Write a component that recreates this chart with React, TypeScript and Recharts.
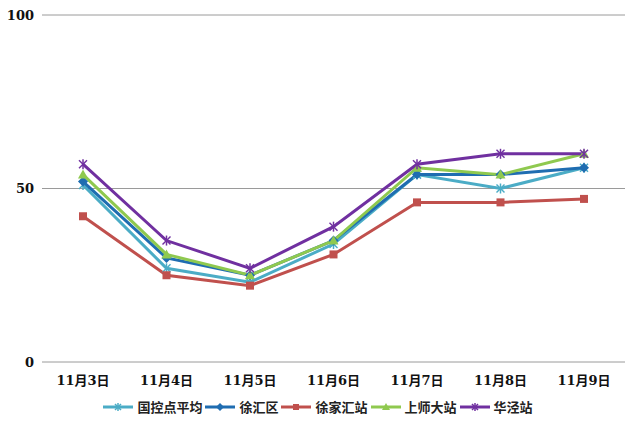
import { LineChart, Line, XAxis, YAxis, CartesianGrid, Legend } from 'recharts'

const days = ['11月3日', '11月4日', '11月5日', '11月6日', '11月7日', '11月8日', '11月9日']
const guokongAvg = [51, 27, 23, 34, 54, 50, 56]
const xuhuiDistrict = [52, 30, 25, 35, 54, 54, 56]
const xujiahuiStation = [42, 25, 22, 31, 46, 46, 47]
const shangshiStation = [54, 31, 25, 35, 56, 54, 60]
const huajingStation = [57, 35, 27, 39, 57, 60, 60]
const yTicks = [0, 50, 100]

const data = days.map((day, i) => ({
  day,
  guokong: guokongAvg[i],
  xuhui: xuhuiDistrict[i],
  xujiahui: xujiahuiStation[i],
  shangshi: shangshiStation[i],
  huajing: huajingStation[i],
}))

type Shape = 'star' | 'diamond' | 'square' | 'triangle' | 'cross'

const series: { key: string; name: string; color: string; shape: Shape }[] = [
  { key: 'guokong', name: '国控点平均', color: '#4BACC6', shape: 'star' },
  { key: 'xuhui', name: '徐汇区', color: '#1F6DB1', shape: 'diamond' },
  { key: 'xujiahui', name: '徐家汇站', color: '#C0504D', shape: 'square' },
  { key: 'shangshi', name: '上师大站', color: '#8FC94F', shape: 'triangle' },
  { key: 'huajing', name: '华泾站', color: '#7030A0', shape: 'cross' },
]

function Marker({ cx, cy, color, shape, r = 4 }: { cx: number; cy: number; color: string; shape: Shape; r?: number }) {
  if (shape === 'diamond') {
    return <path d={`M${cx},${cy - r - 1}L${cx + r + 1},${cy}L${cx},${cy + r + 1}L${cx - r - 1},${cy}Z`} fill={color} />
  }
  if (shape === 'square') {
    return <rect x={cx - r} y={cy - r} width={r * 2} height={r * 2} fill={color} />
  }
  if (shape === 'triangle') {
    return <path d={`M${cx},${cy - r - 1}L${cx + r + 1},${cy + r}L${cx - r - 1},${cy + r}Z`} fill={color} />
  }
  const lines = [
    [cx - r, cy - r, cx + r, cy + r],
    [cx - r, cy + r, cx + r, cy - r],
    [cx, cy - r - 1, cx, cy + r + 1],
  ]
  return (
    <g stroke={color} strokeWidth={1.5}>
      {lines.map((l, i) => (
        <line key={i} x1={l[0]} y1={l[1]} x2={l[2]} y2={l[3]} />
      ))}
    </g>
  )
}

const tickFont = "'DejaVu Serif', 'Liberation Serif', 'Noto Sans CJK SC', serif"

function renderLegend() {
  return (
    <div style={{ display: 'flex', justifyContent: 'center', alignItems: 'center', gap: 2, paddingLeft: 10 }}>
      {series.map((s) => (
        <div key={s.key} style={{ display: 'flex', alignItems: 'center' }}>
          <svg width={32} height={14}>
            <line x1={1} y1={7} x2={31} y2={7} stroke={s.color} strokeWidth={3} />
            <Marker cx={16} cy={7} color={s.color} shape={s.shape} r={3} />
          </svg>
          <span style={{ fontFamily: "'Noto Sans CJK SC', sans-serif", fontWeight: 700, fontSize: 13, color: '#222', marginLeft: 3 }}>
            {s.name}
          </span>
        </div>
      ))}
    </div>
  )
}

export default function App() {
  return (
    <div style={{ position: 'absolute', left: 0, top: 0, background: '#fff' }}>
      <LineChart width={640} height={431} data={data} margin={{ top: 15, right: 15, bottom: 10, left: 0 }}>
        <CartesianGrid vertical={false} stroke="#9a9a9a" strokeWidth={1} />
        <XAxis
          dataKey="day"
          axisLine={false}
          tickLine={false}
          padding={{ left: 41, right: 41 }}
          height={35}
          tickMargin={8}
          tick={{ fontFamily: tickFont, fontWeight: 700, fontSize: 13, fill: '#111' }}
          interval={0}
        />
        <YAxis
          domain={[0, 100]}
          ticks={yTicks}
          axisLine={false}
          tickLine={false}
          width={42}
          tick={{ fontFamily: tickFont, fontWeight: 700, fontSize: 13, fill: '#111' }}
        />
        <Legend verticalAlign="bottom" height={24} content={renderLegend} />
        {series.map((s) => (
          <Line
            key={s.key}
            type="linear"
            dataKey={s.key}
            name={s.name}
            stroke={s.color}
            strokeWidth={3}
            isAnimationActive={false}
            dot={(p: any) => <Marker key={`${s.key}-${p.index}`} cx={p.cx} cy={p.cy} color={s.color} shape={s.shape} />}
            activeDot={false}
          />
        ))}
      </LineChart>
    </div>
  )
}
